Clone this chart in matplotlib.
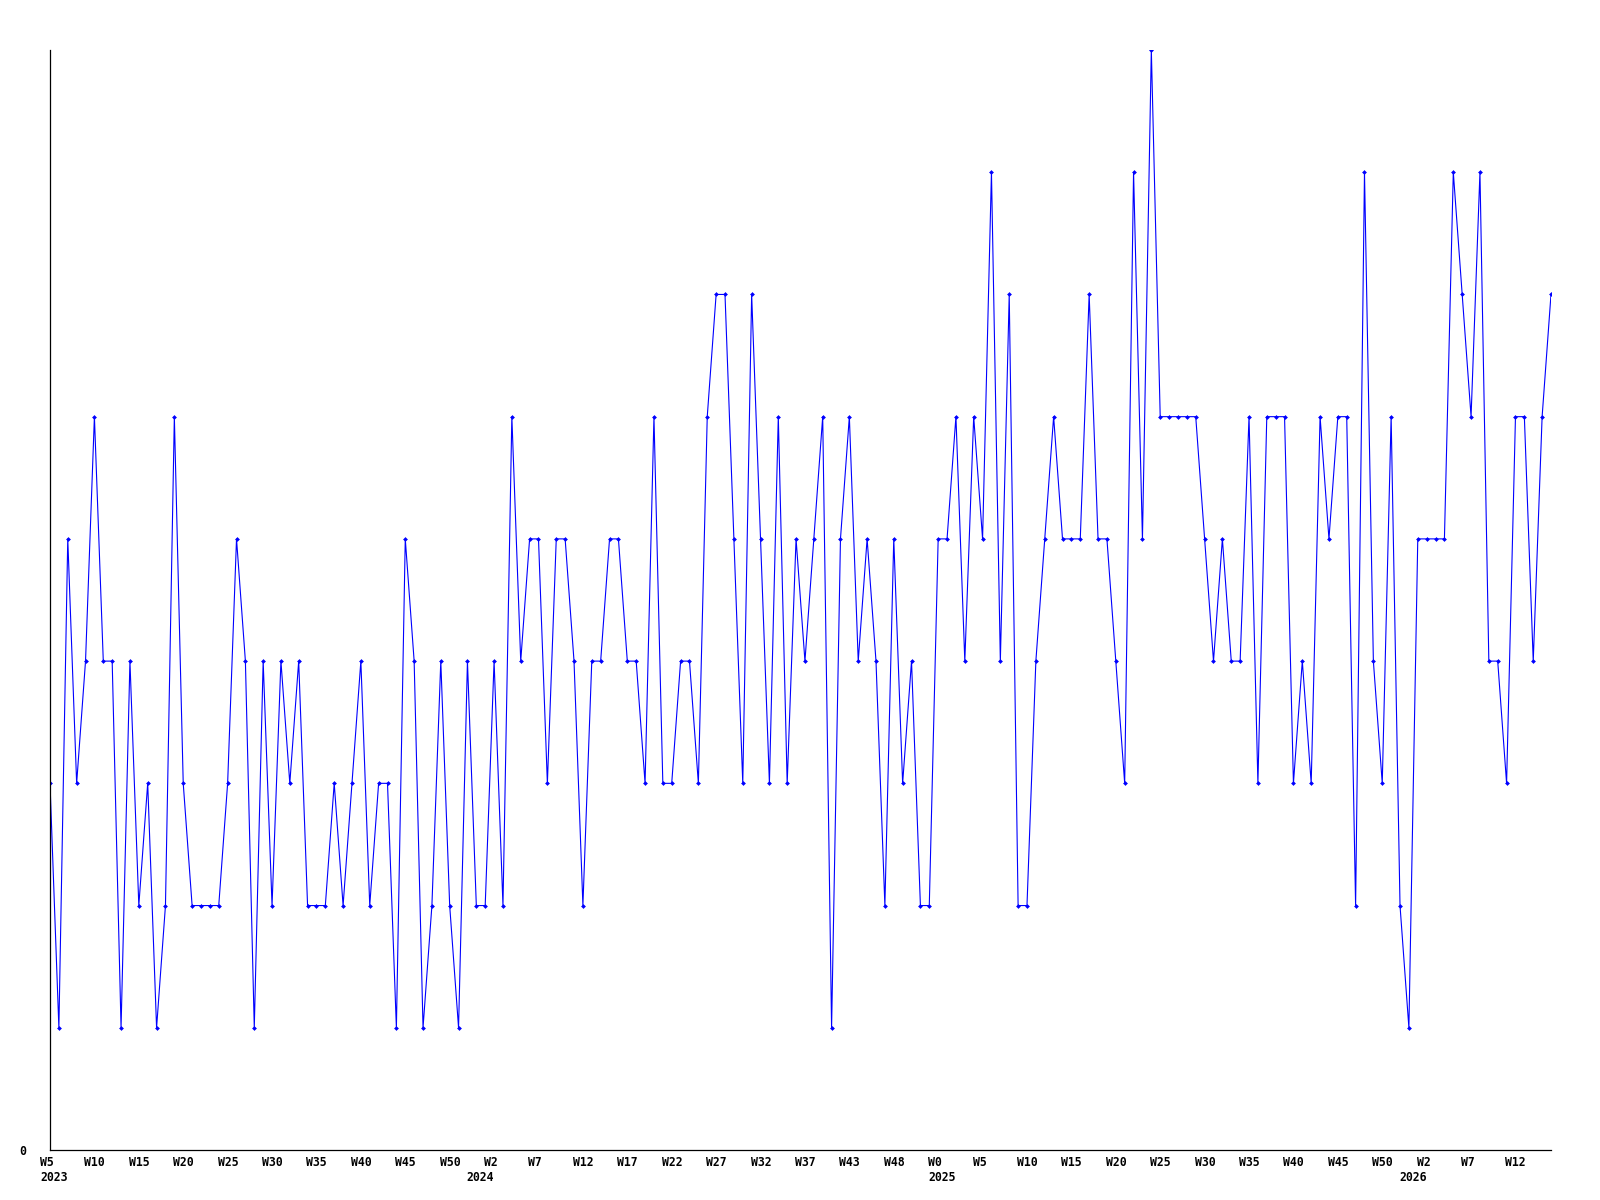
import numpy as np
import matplotlib
matplotlib.use('Agg')
import matplotlib.pyplot as plt
from matplotlib.transforms import offset_copy

# weekly values, W5 2023 .. W14 2026
values = [3, 1, 5, 3, 4, 6, 4, 4, 1, 4,
          2, 3, 1, 2, 6, 3, 2, 2, 2, 2,
          3, 5, 4, 1, 4, 2, 4, 3, 4, 2,
          2, 2, 3, 2, 3, 4, 2, 3, 3, 1,
          5, 4, 1, 2, 4, 2, 1, 4, 2, 2,
          4, 2, 6, 4, 5, 5, 3, 5, 5, 4,
          2, 4, 4, 5, 5, 4, 4, 3, 6, 3,
          3, 4, 4, 3, 6, 7, 7, 5, 3, 7,
          5, 3, 6, 3, 5, 4, 5, 6, 1, 5,
          6, 4, 5, 4, 2, 5, 3, 4, 2, 2,
          5, 5, 6, 4, 6, 5, 8, 4, 7, 2,
          2, 4, 5, 6, 5, 5, 5, 7, 5, 5,
          4, 3, 8, 5, 9, 6, 6, 6, 6, 6,
          5, 4, 5, 4, 4, 6, 3, 6, 6, 6,
          3, 4, 3, 6, 5, 6, 6, 2, 8, 4,
          3, 6, 2, 1, 5, 5, 5, 5, 8, 7,
          6, 8, 4, 4, 3, 6, 6, 4, 6, 7]

week_labels = ['W5', 'W10', 'W15', 'W20', 'W25', 'W30', 'W35', 'W40', 'W45', 'W50',
               'W2', 'W7', 'W12', 'W17', 'W22', 'W27', 'W32', 'W37', 'W43', 'W48',
               'W0', 'W5', 'W10', 'W15', 'W20', 'W25', 'W30', 'W35', 'W40', 'W45', 'W50',
               'W2', 'W7', 'W12']
week_ticks = list(range(0, 170, 5))
years = ['2023', '2024', '2025', '2026']
year_ticks = [0, 48, 100, 153]

x = np.arange(len(values))

fig = plt.figure(figsize=(16, 12), dpi=100)
ax = fig.add_axes([50 / 1600, 50 / 1200, 1501 / 1600, 1100 / 1200])

ax.plot(x, values, color='#0000ff', lw=0.8, marker='D', markersize=2.0,
        markerfacecolor='#0000ff', markeredgecolor='#0000ff', markeredgewidth=0.4)

ax.set_xlim(0, len(values) - 1)
ax.set_ylim(0, 9)

for s in ['top', 'right']:
    ax.spines[s].set_visible(False)
for s in ['left', 'bottom']:
    ax.spines[s].set_linewidth(0.9)
    ax.spines[s].set_color('black')

ax.set_xticks([])
ax.set_yticks([0], ['0'])
ax.tick_params(axis='y', length=0, pad=17)
for lab in ax.get_yticklabels():
    lab.set_fontfamily('DejaVu Sans Mono')
    lab.set_fontweight('bold')
    lab.set_fontsize(8.3)

font = dict(family='DejaVu Sans Mono', weight='bold', size=8.3)
tr_week = offset_copy(ax.get_xaxis_transform(), fig=fig, x=-10, y=-6, units='dots')
for t, lab in zip(week_ticks, week_labels):
    ax.text(t, 0, lab, transform=tr_week, ha='left', va='top', clip_on=False, **font)

tr_year = offset_copy(ax.get_xaxis_transform(), fig=fig, x=-10, y=-21, units='dots')
for t, lab in zip(year_ticks, years):
    ax.text(t, 0, lab, transform=tr_year, ha='left', va='top', clip_on=False, **font)

fig.savefig('out.png', dpi=100, facecolor='white')
